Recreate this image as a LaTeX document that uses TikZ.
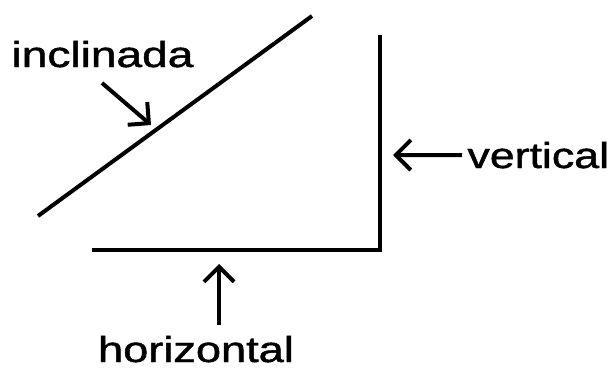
\documentclass[tikz,border=0pt]{standalone}
\usepackage{fontspec}
\setmainfont{Liberation Sans}
\newfontfamily\lblfont[FakeBold=1.2]{Liberation Sans}
\usetikzlibrary{arrows.meta}

\begin{document}
\begin{tikzpicture}[x=1pt, y=-1pt, line width=4pt,
  lbl/.style={inner sep=0pt, xscale=1.28, font=\fontsize{36}{40}\lblfont},
  pointer/.style={-{Straight Barb[length=15pt,width=30pt]}}]

\useasboundingbox (0,0) rectangle (611,369);

% the three lines
\coordinate (I1) at (38,216);
\coordinate (I2) at (312,16);
\coordinate (V1) at (380,35);
\coordinate (C) at (380,250);
\coordinate (H1) at (92,250);
\draw (I1) -- (I2);
\draw (V1) -- (C) -- (H1);

% labels
\node[lbl, anchor=base west] (inclinada) at (9,67) {inclinada};
\node[lbl, anchor=base west, xscale=0.97] (vertical) at (465,168) {vertical};
\node[lbl, anchor=base, xscale=0.98] (horizontal) at (196,362) {horizontal};

% pointers
\coordinate (tailI) at (102,83);
\coordinate (tipI) at (151,125);
\coordinate (tipV) at (393,155);
\coordinate (tailH) at (219,325);
\coordinate (tipH) at (219,264);
\draw[pointer] (tailI) -- (tipI);
\draw[pointer] (vertical.west -| 462,0) -- (tipV);
\draw[pointer] (tailH) -- (tipH);

\end{tikzpicture}
\end{document}
